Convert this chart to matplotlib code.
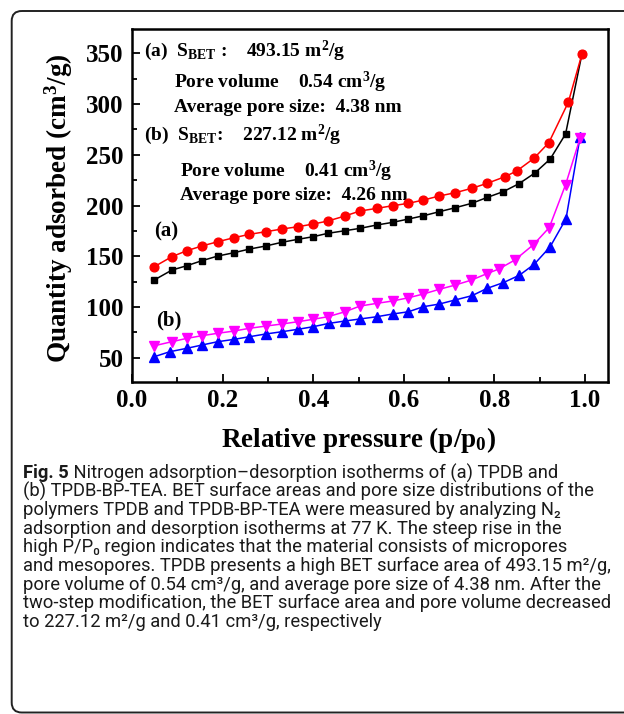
import matplotlib
matplotlib.use('Agg')
import matplotlib.pyplot as plt
from matplotlib.patches import FancyBboxPatch
from matplotlib.ticker import MultipleLocator, FormatStrFormatter

# ---------------- data ----------------
x_a_ads = [0.049, 0.088, 0.121, 0.154, 0.189, 0.225, 0.259, 0.295, 0.330, 0.366,
           0.400, 0.432, 0.470, 0.503, 0.540, 0.575, 0.610, 0.643, 0.678, 0.713,
           0.750, 0.784, 0.820, 0.854, 0.889, 0.923, 0.957, 0.993]
y_a_ads = [126.6, 136.4, 140.7, 145.6, 150.2, 153.5, 157.1, 160.1, 163.7, 166.7,
           169.3, 172.6, 175.2, 177.5, 180.8, 183.4, 186.7, 189.9, 193.9, 197.8,
           202.2, 208.0, 213.8, 221.5, 232.0, 245.8, 270.5, 349.0]

x_a_des = [0.049, 0.088, 0.121, 0.154, 0.189, 0.225, 0.259, 0.295, 0.330, 0.366,
           0.400, 0.432, 0.470, 0.503, 0.540, 0.575, 0.610, 0.643, 0.678, 0.713,
           0.750, 0.784, 0.823, 0.849, 0.887, 0.920, 0.963, 0.993]
y_a_des = [139.7, 149.6, 155.5, 160.1, 164.3, 168.3, 171.6, 174.2, 176.8, 179.1,
           181.8, 184.7, 189.7, 194.6, 197.2, 199.8, 202.2, 205.4, 209.4, 212.6,
           217.0, 221.9, 228.4, 234.0, 246.5, 261.9, 301.7, 349.0]

x_b_ads = [0.049, 0.083, 0.121, 0.154, 0.189, 0.225, 0.259, 0.295, 0.330, 0.366,
           0.400, 0.435, 0.470, 0.503, 0.540, 0.575, 0.610, 0.643, 0.678, 0.713,
           0.750, 0.784, 0.820, 0.855, 0.888, 0.923, 0.958, 0.989]
y_b_ads = [51.0, 55.9, 59.3, 62.5, 65.8, 68.1, 70.7, 73.4, 75.6, 78.0,
           80.6, 83.9, 86.2, 88.2, 90.4, 93.1, 95.3, 100.3, 102.9, 106.9,
           111.1, 118.4, 124.1, 131.3, 142.2, 159.4, 187.0, 267.5]

x_b_des = [0.049, 0.088, 0.121, 0.154, 0.189, 0.225, 0.259, 0.295, 0.330, 0.366,
           0.400, 0.432, 0.470, 0.503, 0.540, 0.575, 0.610, 0.643, 0.678, 0.713,
           0.749, 0.784, 0.809, 0.845, 0.886, 0.921, 0.957, 0.989]
y_b_des = [61.8, 65.8, 69.1, 71.7, 74.1, 76.3, 79.0, 81.2, 83.2, 85.5,
           87.9, 90.4, 95.3, 100.9, 103.6, 105.9, 109.1, 112.8, 117.4, 121.6,
           126.5, 133.0, 137.3, 146.3, 161.4, 178.3, 220.5, 266.5]

x_ticks = [0.0, 0.2, 0.4, 0.6, 0.8, 1.0]
y_ticks = [50, 100, 150, 200, 250, 300, 350]

info_lines = [
    r'(a)  $S_{BET}$ :    493.15 $m^2$/g',
    r'Pore volume    0.54 $cm^3$/g',
    r'Average pore size:  4.38 nm',
    r'(b)  $S_{BET}$:    227.12 $m^2$/g',
    r'Pore volume    0.41 $cm^3$/g',
    r'Average pore size:  4.26 nm',
]
xlabel = r'Relative pressure ($p/p_0$)'
ylabel = r'Quantity adsorbed ($cm^3$/g)'

cap_bold = 'Fig. 5'
cap_lines = [
    ' Nitrogen adsorption\u2013desorption isotherms of (a) TPDB and',
    '(b) TPDB-BP-TEA. BET surface areas and pore size distributions of the',
    'polymers TPDB and TPDB-BP-TEA were measured by analyzing N\u2082',
    'adsorption and desorption isotherms at 77 K. The steep rise in the',
    'high P/P\u2080 region indicates that the material consists of micropores',
    'and mesopores. TPDB presents a high BET surface area of 493.15 m\u00b2/g,',
    'pore volume of 0.54 cm\u00b3/g, and average pore size of 4.38 nm. After the',
    'two-step modification, the BET surface area and pore volume decreased',
    'to 227.12 m\u00b2/g and 0.41 cm\u00b3/g, respectively',
]

# ---------------- style ----------------
plt.rcParams['font.family'] = ['Liberation Serif', 'DejaVu Serif']
plt.rcParams['font.weight'] = 'bold'
plt.rcParams['mathtext.default'] = 'regular'

W, H, DPI = 624, 714, 100
fig = plt.figure(figsize=(W / DPI, H / DPI), dpi=DPI)

# pixel-coordinate overlay for frame, labels and caption
bg = fig.add_axes([0, 0, 1, 1], zorder=0)
bg.set_xlim(0, W)
bg.set_ylim(H, 0)
bg.axis('off')
bg.add_patch(FancyBboxPatch((11.7, 11.0), 680, 701.5,
                            boxstyle='round,pad=0,rounding_size=10',
                            fill=False, lw=1.4, ec='#222222'))

L, R, T, B = 132, 607.7, 29.3, 382.3
ax = fig.add_axes([L / W, 1 - B / H, (R - L) / W, (B - T) / H], zorder=1)
ax.patch.set_alpha(0)

ax.plot(x_a_ads, y_a_ads, '-s', color='black', lw=1.1, ms=5)
ax.plot(x_a_des, y_a_des, '-o', color='red', lw=1.1, ms=6.3)
ax.plot(x_b_ads, y_b_ads, '-^', color='blue', lw=1.1, ms=6.5)
ax.plot(x_b_des, y_b_des, '-v', color='magenta', lw=1.1, ms=6.5)

ax.set_xlim(0, 1.05)
ax.set_ylim(25.8, 373.7)
ax.set_xticks(x_ticks)
ax.set_yticks(y_ticks)
ax.xaxis.set_major_formatter(FormatStrFormatter('%.1f'))
ax.xaxis.set_minor_locator(MultipleLocator(0.1))
ax.yaxis.set_minor_locator(MultipleLocator(25))
ax.tick_params(which='both', direction='in', top=False, right=False, width=1.3)
ax.tick_params(which='major', length=6, labelsize=18)
ax.tick_params(which='minor', length=3.5)
ax.tick_params(axis='x', which='major', pad=5)
ax.tick_params(axis='y', which='major', pad=6)
for s in ax.spines.values():
    s.set_linewidth(1.8)

# info text
info_pos = [(144, 56), (174, 88.3), (174, 111.7), (144, 140), (180, 176.7), (180, 200)]
for (px, py), s in zip(info_pos, info_lines):
    bg.text(px, py, s, fontsize=14, ha='left', va='baseline')
bg.text(154, 236.5, '(a)', fontsize=15, ha='left', va='baseline')
bg.text(156.5, 325, '(b)', fontsize=15, ha='left', va='baseline')

# axis labels
bg.text(358, 446.7, xlabel, fontsize=19.5, ha='center', va='baseline')
bg.text(67, 208, ylabel, fontsize=19.5, ha='center', va='baseline',
        rotation=90, rotation_mode='anchor')

# caption
cap_font = ['Roboto', 'DejaVu Sans']
cap_color = '#1a1a1a'
cap_x0 = 23.3
cap_base0 = 478.3
cap_step = 18.55
cap_right = [589, 605.7, 591, 602, 605.7, 606, 606, 608, 385.7]

fig.canvas.draw()
rend = fig.canvas.get_renderer()
f0 = 11.0
tb = bg.text(cap_x0, cap_base0, cap_bold, fontsize=f0, family=cap_font,
             weight='bold', color=cap_color, ha='left', va='baseline')
texts = []
for i, s in enumerate(cap_lines):
    t = bg.text(cap_x0, cap_base0 + i * cap_step, s, fontsize=f0, family=cap_font,
                weight='normal', color=cap_color, ha='left', va='baseline')
    texts.append(t)
wb = tb.get_window_extent(rend).width
ratios = []
for i, t in enumerate(texts):
    w = t.get_window_extent(rend).width + (wb if i == 0 else 0)
    ratios.append((cap_right[i] - cap_x0) / w)
ratios_sorted = sorted(ratios)
scale = ratios_sorted[len(ratios_sorted) // 2]
scale = min(scale, min(ratios) * (612 - cap_x0) / (608 - cap_x0))
f1 = f0 * scale
tb.set_fontsize(f1)
for t in texts:
    t.set_fontsize(f1)
fig.canvas.draw()
wb = tb.get_window_extent(rend).width
texts[0].set_x(cap_x0 + wb)

fig.savefig('out.png', dpi=DPI)
